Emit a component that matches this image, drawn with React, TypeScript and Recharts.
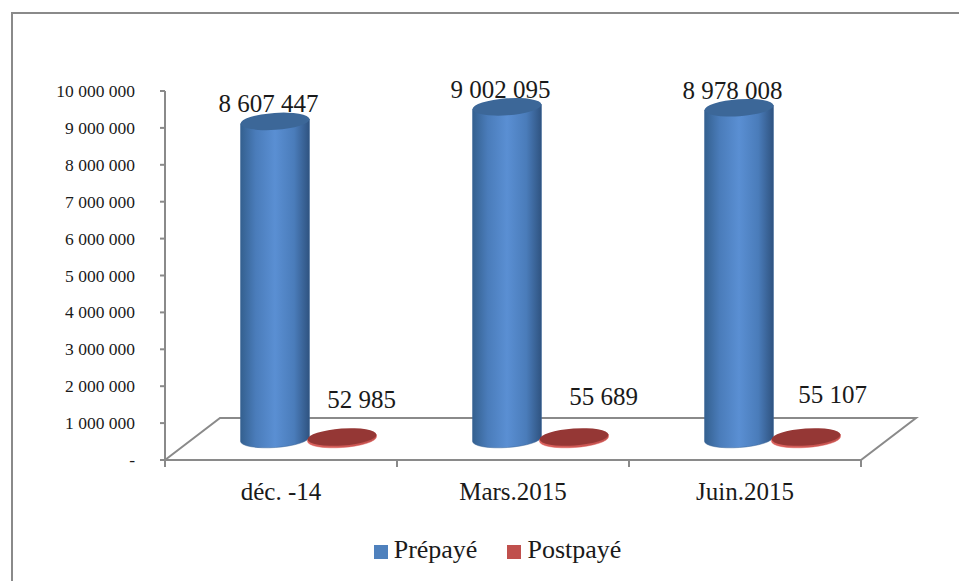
import { BarChart, Bar, XAxis, YAxis, Legend, LabelList, usePlotArea } from "recharts";

const categories = ["déc. -14", "Mars.2015", "Juin.2015"];
const prepaye = [8607447, 9002095, 8978008];
const postpaye = [52985, 55689, 55107];
const yTicks = [0, 1000000, 2000000, 3000000, 4000000, 5000000, 6000000, 7000000, 8000000, 9000000, 10000000];

const chartData = categories.map((name, i) => ({
  name,
  prepaye: prepaye[i],
  postpaye: postpaye[i],
}));

const FONT = "'Liberation Serif', serif";
const AXIS = "#8a8a8a";
// fake 3D: how far the floor recedes
const DEPTH_X = 55;
const DEPTH_Y = 42;
const SHIFT_X = DEPTH_X / 2;
const SHIFT_Y = DEPTH_Y / 2;
const TILT = -4;

function fmt(v: number) {
  return String(v).replace(/\B(?=(\d{3})+(?!\d))/g, " ");
}

function Floor() {
  const plot = usePlotArea();
  if (!plot) return null;
  const x0 = plot.x;
  const x1 = plot.x + plot.width;
  const y = plot.y + plot.height;
  const band = plot.width / categories.length;
  return (
    <g stroke={AXIS} strokeWidth={2} fill="none">
      <path d={`M${x0} ${y} L${x0 + DEPTH_X} ${y - DEPTH_Y} L${x1 + DEPTH_X} ${y - DEPTH_Y} L${x1} ${y} Z`} />
      {/* excel puts the ticks between categories, not under them */}
      {[0, 1, 2, 3].map((i) => (
        <line key={i} x1={x0 + band * i} x2={x0 + band * i} y1={y} y2={y + 7} />
      ))}
    </g>
  );
}

function Cylinder(props: any) {
  const { x, y, width, height, gradient, topFill, lip } = props;
  const rx = width / 2;
  const ry = 8.5;
  const cx = x + rx + SHIFT_X;
  const top = y - SHIFT_Y;
  const base = y + height - SHIFT_Y;
  const d = Math.sin((TILT * Math.PI) / 180) * rx;
  const body = `M${cx - rx} ${top - d} L${cx - rx} ${base - d} A${rx} ${ry} ${TILT} 0 0 ${cx + rx} ${base + d} L${cx + rx} ${top + d} Z`;
  return (
    <g>
      <path d={body} fill={`url(#${gradient})`} stroke={lip} strokeWidth={0.5} />
      <ellipse cx={cx} cy={top} rx={rx} ry={ry} fill={topFill} transform={`rotate(${TILT} ${cx} ${top})`} />
    </g>
  );
}

function ValueLabel(props: any) {
  const { x, y, width, value, index, dx, dy } = props;
  return (
    <text x={x + width / 2 + dx[index]} y={y + dy[index]} textAnchor="middle" fontFamily={FONT} fontSize={25} fill="#1a1a1a">
      {fmt(value)}
    </text>
  );
}

function YTick(props: any) {
  const { x, y, payload } = props;
  return (
    <text x={x} y={y + 6} textAnchor="end" fontFamily={FONT} fontSize={17.5} fill="#1a1a1a">
      {payload.value === 0 ? "-" : fmt(payload.value)}
    </text>
  );
}

export default function App() {
  return (
    <div style={{ position: "absolute", left: 0, top: 0, width: 959, height: 581, overflow: "hidden", background: "#fff" }}>
      <div style={{ position: "absolute", left: 11, top: 12, width: 950, height: 580, border: `2px solid ${AXIS}` }} />
      <div style={{ position: "absolute", left: 0, top: 0 }}>
        <BarChart
          width={959}
          height={581}
          data={chartData}
          margin={{ top: 91, right: 98, bottom: 61, left: 65 }}
          barSize={69}
          barGap={-2}
        >
          <defs>
            <linearGradient id="blueBody" x1="0" y1="0" x2="1" y2="0">
              <stop offset="0%" stopColor="#34608f" />
              <stop offset="22%" stopColor="#4a7cba" />
              <stop offset="50%" stopColor="#5a8fd3" />
              <stop offset="78%" stopColor="#4a7cba" />
              <stop offset="100%" stopColor="#2f5380" />
            </linearGradient>
            <linearGradient id="redBody" x1="0" y1="0" x2="1" y2="0">
              <stop offset="0%" stopColor="#d9605c" />
              <stop offset="100%" stopColor="#c0504d" />
            </linearGradient>
          </defs>
          <Floor />
          <XAxis
            dataKey="name"
            stroke={AXIS}
            strokeWidth={2}
            tickLine={false}
            tick={{ fontFamily: FONT, fontSize: 25, fill: "#1a1a1a" }}
            tickSize={7}
            tickMargin={15}
            interval={0}
          />
          <YAxis
            domain={[0, 10000000]}
            ticks={yTicks}
            width={100}
            stroke={AXIS}
            strokeWidth={2}
            tickSize={5}
            tick={<YTick />}
            tickMargin={25}
            interval={0}
          />
          <Legend
            height={30}
            iconType="square"
            iconSize={14}
            itemSorter={null}
            wrapperStyle={{ position: "absolute", left: 33, width: 959, top: 535, fontFamily: FONT, fontSize: 26 }}
            formatter={(v: string) => <span style={{ color: "#1a1a1a", marginRight: 20, marginLeft: 2 }}>{v}</span>}
          />
          <Bar
            dataKey="prepaye"
            name="Prépayé"
            fill="#4f81bd"
            isAnimationActive={false}
            shape={<Cylinder gradient="blueBody" topFill="#3c6798" lip="#3c6798" />}
          >
            <LabelList dataKey="prepaye" content={<ValueLabel dx={[21, 21, 21]} dy={[-30, -30, -30]} />} />
          </Bar>
          <Bar
            dataKey="postpaye"
            name="Postpayé"
            fill="#c0504d"
            isAnimationActive={false}
            shape={<Cylinder gradient="redBody" topFill="#953735" lip="#e0605c" />}
          >
            <LabelList dataKey="postpaye" content={<ValueLabel dx={[47, 57, 54]} dy={[-50, -53, -55]} />} />
          </Bar>
        </BarChart>
      </div>
    </div>
  );
}
